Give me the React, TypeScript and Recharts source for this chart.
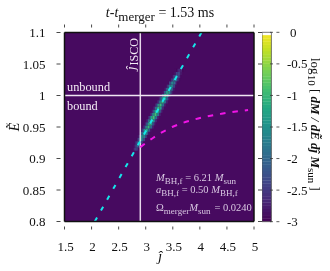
import React from "react";
import { ComposedChart, XAxis, YAxis, Line, ReferenceArea, ReferenceLine } from "recharts";

const xTicks = [1.5, 2, 2.5, 3, 3.5, 4, 4.5, 5];
const yTicks = [0.8, 0.85, 0.9, 0.95, 1, 1.05, 1.1];
const cbTicks = [-3, -2.5, -2, -1.5, -1, -0.5, 0];
const cbRange = [
  { x: 0, v: -3 },
  { x: 1, v: 0 },
];

const cyanLine = [
  { j: 2.06, E: 0.8 },
  { j: 4.03, E: 1.1 },
];
const magentaLine = [
  { j: 2.9, E: 0.918 },
  { j: 3.14, E: 0.933 },
  { j: 3.49, E: 0.95 },
  { j: 3.9, E: 0.962 },
  { j: 4.4, E: 0.971 },
  { j: 4.89, E: 0.977 },
];
const jIsco = 2.9;

const heatE = [0.915, 0.92, 0.925, 0.93, 0.935, 0.94, 0.945, 0.95, 0.955, 0.96, 0.965, 0.97, 0.975, 0.98, 0.985, 0.99, 0.995, 1.0, 1.005, 1.01, 1.015, 1.02, 1.025, 1.03, 1.035, 1.04];
const heatJ = [2.82, 2.85, 2.88, 2.92, 2.95, 2.98, 3.01, 3.05, 3.08, 3.11, 3.14, 3.18, 3.21, 3.24, 3.27, 3.31, 3.34, 3.37, 3.41, 3.44, 3.47, 3.5, 3.54, 3.57, 3.6, 3.63];
const heatRows = [
  [-3, -2.9, -2.6, -2.3, -2.6, -2.9, -3],
  [-3, -2.8, -2.3, -2.0, -2.3, -2.8, -3],
  [-2.9, -2.5, -2.0, -1.7, -2.0, -2.6, -3],
  [-2.9, -2.4, -1.8, -1.5, -1.8, -2.4, -2.9],
  [-2.8, -2.3, -1.6, -1.35, -1.6, -2.3, -2.9],
  [-2.8, -2.2, -1.5, -1.2, -1.5, -2.2, -2.8],
  [-2.8, -2.1, -1.4, -1.1, -1.4, -2.1, -2.8],
  [-2.7, -2.0, -1.35, -1.0, -1.35, -2.0, -2.7],
  [-2.7, -2.0, -1.3, -0.95, -1.3, -2.0, -2.7],
  [-2.7, -1.9, -1.25, -0.9, -1.25, -1.9, -2.7],
  [-2.7, -1.9, -1.2, -0.9, -1.2, -1.9, -2.7],
  [-2.7, -1.9, -1.2, -0.9, -1.2, -1.9, -2.7],
  [-2.7, -1.9, -1.2, -0.9, -1.2, -1.9, -2.7],
  [-2.7, -1.9, -1.25, -0.95, -1.25, -1.9, -2.7],
  [-2.7, -1.95, -1.3, -0.95, -1.3, -1.95, -2.7],
  [-2.7, -2.0, -1.3, -1.0, -1.3, -2.0, -2.7],
  [-2.7, -2.0, -1.35, -1.05, -1.35, -2.0, -2.7],
  [-2.8, -2.1, -1.4, -1.1, -1.4, -2.1, -2.8],
  [-2.8, -2.1, -1.45, -1.15, -1.45, -2.1, -2.8],
  [-2.8, -2.2, -1.55, -1.25, -1.55, -2.2, -2.8],
  [-2.85, -2.3, -1.7, -1.4, -1.7, -2.3, -2.85],
  [-2.9, -2.4, -1.85, -1.55, -1.85, -2.4, -2.9],
  [-2.9, -2.5, -2.0, -1.75, -2.0, -2.5, -2.9],
  [-3, -2.6, -2.2, -2.0, -2.2, -2.6, -3],
  [-3, -2.8, -2.45, -2.3, -2.45, -2.8, -3],
  [-3, -2.95, -2.7, -2.6, -2.7, -2.95, -3],
];
const heatStepJ = 0.028;
const heatStepE = 0.005;

const viridis = ["#440154", "#482475", "#414487", "#355f8d", "#2a788e", "#21918c", "#22a884", "#44bf70", "#7ad151", "#bddf26", "#fde725"];
const BG = "#470a60";

function hexRgb(h: string) {
  return [1, 3, 5].map((i) => parseInt(h.slice(i, i + 2), 16));
}
function colorOf(v: number) {
  const t = Math.max(0, Math.min(1, (v + 3) / 3)) * (viridis.length - 1);
  const i = Math.min(viridis.length - 2, Math.floor(t));
  const a = hexRgb(viridis[i]);
  const b = hexRgb(viridis[i + 1]);
  const f = t - i;
  return `rgb(${a.map((c, k) => Math.round(c + (b[k] - c) * f)).join(",")})`;
}

const cbLevels: number[] = [];
for (let k = 0; k < 60; k++) cbLevels.push(-3 + k * 0.05);

const FONT = '"Liberation Serif", "Times New Roman", serif';
const TICK_COL = "#1a1a1a";

const BottomTick = ({ x, y, payload }: any) => (
  <g>
    <line x1={x} x2={x} y1={y} y2={y - 3} stroke={TICK_COL} strokeWidth={0.8} />
    <text x={x + 1} y={y + 21.5} textAnchor="middle" fontFamily={FONT} fontSize={13} fill="#111">{payload.value}</text>
  </g>
);
const TopTick = ({ x, y }: any) => <line x1={x} x2={x} y1={y} y2={y + 3} stroke={TICK_COL} strokeWidth={0.8} />;
const LeftTick = ({ x, y, payload }: any) => (
  <g>
    <line x1={x} x2={x + 4} y1={y} y2={y} stroke={TICK_COL} strokeWidth={0.8} />
    <text x={x - 11} y={y + 4.5} textAnchor="end" fontFamily={FONT} fontSize={13} fill="#111">{payload.value}</text>
  </g>
);
const RightTick = ({ x, y }: any) => <line x1={x} x2={x - 4} y1={y} y2={y} stroke={TICK_COL} strokeWidth={0.8} />;
const CbTick = ({ x, y, payload }: any) => (
  <g>
    <line x1={x} x2={x - 3} y1={y} y2={y} stroke="#333" strokeWidth={0.8} />
    <line x1={x - 9.4} x2={x - 6.4} y1={y} y2={y} stroke="#333" strokeWidth={0.8} />
    <text x={x + 7.5 + (payload.value === 0 ? 3 : 0)} y={y + 4.5} fontFamily={FONT} fontSize={13} fill="#111">{payload.value}</text>
  </g>
);

export default function App() {
  return (
    <div style={{ position: "fixed", left: 0, top: 0, width: 330, height: 271, background: "#fff", filter: "blur(0.35px)" }}>
      <div style={{ position: "absolute", left: 0, top: 0 }}>
        <ComposedChart width={330} height={271} margin={{ top: 0, right: 0, bottom: 0, left: 0 }}>
          <XAxis xAxisId="b" type="number" dataKey="j" domain={[1.5, 5]} ticks={xTicks} height={49.5} orientation="bottom" tick={BottomTick} tickLine={false} axisLine={{ stroke: "#111", strokeWidth: 1.5 }} allowDataOverflow interval={0} />
          <XAxis xAxisId="t" type="number" dataKey="j" domain={[1.5, 5]} ticks={xTicks} height={32.5} orientation="top" tick={TopTick} tickLine={false} axisLine={{ stroke: "#111", strokeWidth: 1.5 }} allowDataOverflow interval={0} />
          <YAxis yAxisId="l" type="number" domain={[0.8, 1.1]} ticks={yTicks} width={64.5} orientation="left" tick={LeftTick} tickLine={false} axisLine={{ stroke: "#111", strokeWidth: 1.5 }} allowDataOverflow interval={0} />
          <YAxis yAxisId="r" type="number" domain={[0.8, 1.1]} ticks={yTicks} width={76} orientation="right" tick={RightTick} tickLine={false} axisLine={{ stroke: "#111", strokeWidth: 1.5 }} allowDataOverflow interval={0} />
          <ReferenceArea xAxisId="b" yAxisId="l" x1={1.5} x2={5} y1={0.8} y2={1.1} fill={BG} fillOpacity={1} stroke="none" />
          {heatRows.flatMap((row, r) =>
            row.map((v, c) => {
              const jc = heatJ[r] + (c - 3) * heatStepJ;
              return (
                <ReferenceArea
                  key={`${r}-${c}`}
                  xAxisId="b"
                  yAxisId="l"
                  x1={jc - heatStepJ / 2}
                  x2={jc + heatStepJ / 2}
                  y1={heatE[r] - heatStepE / 2}
                  y2={heatE[r] + heatStepE / 2}
                  fill={v <= -3 ? BG : colorOf(v)}
                  fillOpacity={1}
                  stroke="none"
                />
              );
            })
          )}
          <ReferenceLine xAxisId="b" yAxisId="l" x={jIsco} stroke="#e6d8ea" strokeWidth={1.5} />
          <ReferenceLine xAxisId="b" yAxisId="l" y={1} stroke="#f0e6f2" strokeWidth={1.5} />
          <Line xAxisId="b" yAxisId="l" data={magentaLine} dataKey="E" stroke="#f015e6" strokeWidth={2} strokeDasharray="5.5 7" dot={false} isAnimationActive={false} type="monotone" />
          <Line xAxisId="b" yAxisId="l" data={cyanLine} dataKey="E" stroke="#16e6ea" strokeWidth={2} strokeDasharray="4.5 8" dot={false} isAnimationActive={false} type="linear" />
        </ComposedChart>
      </div>
      <div style={{ position: "absolute", left: 262.3, top: 0 }}>
        <ComposedChart width={67.7} height={271} margin={{ top: 0, right: 0, bottom: 0, left: 0 }}>
          <XAxis xAxisId="ct" type="number" dataKey="x" domain={[0, 1]} height={32.3} orientation="top" tick={false} tickLine={false} axisLine={false} />
          <XAxis xAxisId="cb" type="number" dataKey="x" domain={[0, 1]} height={49.3} orientation="bottom" tick={false} tickLine={false} axisLine={false} />
          <YAxis yAxisId="c" type="number" domain={[-3, 0]} ticks={cbTicks} width={58.3} orientation="right" tick={false} tickLine={false} axisLine={false} allowDataOverflow interval={0} />
          {cbLevels.map((v) => (
            <ReferenceArea key={v} xAxisId="cb" yAxisId="c" x1={0} x2={1} y1={v} y2={v + 0.055} fill={colorOf(v + 0.025)} fillOpacity={1} stroke="none" />
          ))}
          <ReferenceArea xAxisId="cb" yAxisId="c" x1={0} x2={1} y1={-3} y2={0} fill="none" stroke="#555" strokeWidth={0.8} />
          <Line xAxisId="cb" yAxisId="c" data={cbRange} dataKey="v" stroke="none" dot={false} isAnimationActive={false} />
        </ComposedChart>
      </div>
      <div style={{ position: "absolute", left: 262.3, top: 0 }}>
        <ComposedChart width={67.7} height={271} margin={{ top: 0, right: 0, bottom: 0, left: 0 }}>
          <XAxis xAxisId="ct2" type="number" dataKey="x" domain={[0, 1]} height={32.3} orientation="top" tick={false} tickLine={false} axisLine={false} />
          <XAxis xAxisId="cb2" type="number" dataKey="x" domain={[0, 1]} height={49.3} orientation="bottom" tick={false} tickLine={false} axisLine={false} />
          <YAxis yAxisId="c2" type="number" domain={[-3, 0]} ticks={cbTicks} width={58.3} orientation="right" tick={CbTick} tickLine={false} axisLine={false} allowDataOverflow interval={0} />
          <Line xAxisId="cb2" yAxisId="c2" data={cbRange} dataKey="v" stroke="none" dot={false} isAnimationActive={false} />
        </ComposedChart>
      </div>
      <svg width={330} height={271} style={{ position: "absolute", left: 0, top: 0, pointerEvents: "none" }} fontFamily={FONT}>
        <text x={160} y={17} textAnchor="middle" fontSize={14} fill="#111">
          <tspan fontStyle="italic">t-t</tspan>
          <tspan dy={4} fontSize={13}>merger</tspan>
          <tspan dy={-4}> = 1.53 ms</tspan>
        </text>
        <text x={160} y={261} textAnchor="middle" fontSize={15} fontStyle="italic" fill="#111">ĵ</text>
        <text transform="translate(19,127) rotate(-90)" textAnchor="middle" fontSize={14} fontStyle="italic" fill="#111">Ẽ</text>
        <text x={67} y={91} fontSize={12.3} fill="#f4ecf5">unbound</text>
        <text x={67} y={109.5} fontSize={12.3} fill="#f4ecf5">bound</text>
        <text transform="translate(135,70) rotate(-90)" fontSize={13} fill="#f4ecf5">
          <tspan fontStyle="italic">ĵ</tspan>
          <tspan dy={3} dx={1} fontSize={12}>ISCO</tspan>
        </text>
        <g fill="#d9c8e2" fontSize={10.5}>
          <text x={156} y={181}>
            <tspan fontStyle="italic">M</tspan><tspan dy={2.5} fontSize={9}>BH,f</tspan><tspan dy={-2.5}> = 6.21 </tspan><tspan fontStyle="italic">M</tspan><tspan dy={2.5} fontSize={9}>sun</tspan>
          </text>
          <text x={156} y={193}>
            <tspan fontStyle="italic">a</tspan><tspan dy={2.5} fontSize={9}>BH,f</tspan><tspan dy={-2.5}> = 0.50 </tspan><tspan fontStyle="italic">M</tspan><tspan dy={2.5} fontSize={9}>BH,f</tspan>
          </text>
          <text x={156} y={211}>
            <tspan>Ω</tspan><tspan dy={2.5} fontSize={9}>merger</tspan><tspan dy={-2.5} fontStyle="italic">M</tspan><tspan dy={2.5} fontSize={9}>sun</tspan><tspan dy={-2.5} dx={4}>= 0.0240</tspan>
          </text>
        </g>
        <text transform="translate(311,58) rotate(90)" fontSize={13} fill="#111">
          <tspan>log</tspan><tspan dy={3} fontSize={11}>10</tspan><tspan dy={-3}> [ </tspan>
          <tspan fontStyle="italic" fontWeight={600}>dM / dẼ dĵ M</tspan><tspan dy={3} fontSize={11}>sun</tspan><tspan dy={-3}> ]</tspan>
        </text>
      </svg>
    </div>
  );
}
